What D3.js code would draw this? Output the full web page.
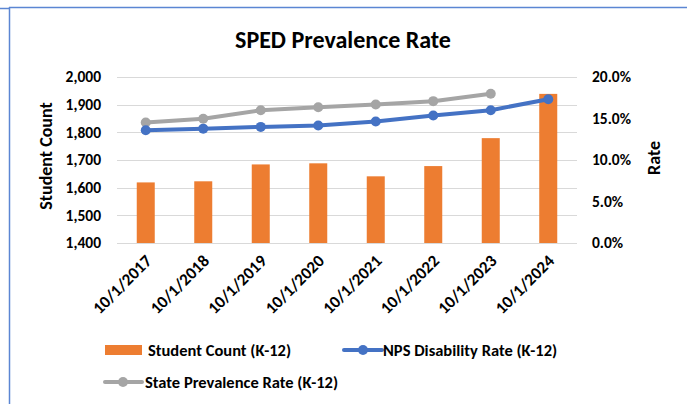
<!DOCTYPE html>
<html>
<head>
<meta charset="utf-8">
<script src="https://cdn.jsdelivr.net/npm/d3@7"></script>
<style>
  html, body { margin: 0; padding: 0; background: #fff; }
  svg { display: block; font-family: Carlito, "Liberation Sans Narrow", "Open Sans", sans-serif; }
</style>
</head>
<body>
<svg id="chart" width="687" height="404"></svg>
<script>
const categories = ["10/1/2017", "10/1/2018", "10/1/2019", "10/1/2020", "10/1/2021", "10/1/2022", "10/1/2023", "10/1/2024"];
const studentCount = [1619, 1623, 1684, 1688, 1641, 1678, 1779, 1939];
const npsRate = [0.1358, 0.1378, 0.1399, 0.1415, 0.1463, 0.1536, 0.1600, 0.1733];
const stateRate = [0.1451, 0.1496, 0.1600, 0.1636, 0.1669, 0.1709, 0.1798, null];
const countTicks = [1400, 1500, 1600, 1700, 1800, 1900, 2000];
const rateTicks = [0, 0.05, 0.10, 0.15, 0.20];

const ORANGE = "#ED7D31";
const BLUE = "#4472C4";
const GRAY = "#A5A5A5";
const FONT = "Carlito, 'Liberation Sans Narrow', 'Open Sans', sans-serif";

const svg = d3.select("#chart");
const margin = { left: 117, right: 110, top: 77, bottom: 161 };
const width = 687, height = 404;

const x = d3.scaleBand().domain(categories).range([margin.left, width - margin.right]);
const yCount = d3.scaleLinear().domain([1400, 2000]).range([height - margin.bottom, margin.top]);
const yRate = d3.scaleLinear().domain([0, 0.2]).range([height - margin.bottom, margin.top]);

// chart frame (partially visible like a cropped Excel chart)
svg.append("line").attr("x1", 9).attr("x2", width).attr("y1", 7.5).attr("y2", 7.5)
  .attr("stroke", "#5B86D3").attr("stroke-width", 1.5);
svg.append("line").attr("x1", 0).attr("x2", 9).attr("y1", 8.5).attr("y2", 8.5)
  .attr("stroke", "#5B86D3").attr("stroke-width", 1.5);
svg.append("line").attr("x1", 9.5).attr("x2", 9.5).attr("y1", 7).attr("y2", height)
  .attr("stroke", "#5B86D3").attr("stroke-width", 1.5);

svg.append("text").attr("x", 343).attr("y", 48).attr("text-anchor", "middle")
  .attr("font-size", 24).attr("font-weight", "bold").attr("fill", "#000")
  .text("SPED Prevalence Rate");

// gridlines
svg.append("g").selectAll("line").data(countTicks).join("line")
  .attr("x1", margin.left).attr("x2", width - margin.right)
  .attr("y1", (d) => Math.round(yCount(d)) + 0.5).attr("y2", (d) => Math.round(yCount(d)) + 0.5)
  .attr("stroke", "#D9D9D9").attr("stroke-width", 1);

// left axis
const leftAxis = svg.append("g").attr("transform", `translate(${margin.left},0)`)
  .call(d3.axisLeft(yCount).tickValues(countTicks).tickFormat(d3.format(",")).tickSize(0).tickPadding(16));
leftAxis.select(".domain").remove();
leftAxis.selectAll("text").attr("font-size", 15.5).attr("font-weight", "bold").attr("fill", "#000")
  .attr("font-family", FONT);

// right axis
const rightAxis = svg.append("g").attr("transform", `translate(${width - margin.right},0)`)
  .call(d3.axisRight(yRate).tickValues(rateTicks).tickFormat(d3.format(".1%")).tickSize(0).tickPadding(15));
rightAxis.select(".domain").remove();
rightAxis.selectAll("text").attr("font-size", 15.5).attr("font-weight", "bold").attr("fill", "#000")
  .attr("font-family", FONT);

// axis titles
svg.append("text").attr("transform", "translate(52,156) rotate(-90)").attr("text-anchor", "middle")
  .attr("font-size", 18).attr("font-weight", "bold").text("Student Count");
svg.append("text").attr("transform", "translate(660,158) rotate(-90)").attr("text-anchor", "middle")
  .attr("font-size", 18).attr("font-weight", "bold").text("Rate");

// bars
const barW = 18;
svg.append("g").selectAll("rect").data(studentCount).join("rect")
  .attr("x", (d, i) => x(categories[i]) + x.bandwidth() / 2 - barW / 2)
  .attr("y", (d) => yCount(d))
  .attr("width", barW)
  .attr("height", (d) => yCount(1400) - yCount(d))
  .attr("fill", ORANGE);

// x labels
svg.append("g").selectAll("text").data(categories).join("text")
  .attr("transform", (d) => `translate(${x(d) + x.bandwidth() / 2 + 7},${height - margin.bottom + 19}) rotate(-45)`)
  .attr("text-anchor", "end")
  .attr("font-size", 17).attr("font-weight", "bold").text((d) => d);

// lines
function drawSeries(values, color) {
  const pts = values.map((v, i) => ({ c: categories[i], v })).filter((p) => p.v !== null);
  const line = d3.line().x((p) => x(p.c) + x.bandwidth() / 2).y((p) => yRate(p.v));
  svg.append("path").datum(pts).attr("d", line).attr("fill", "none")
    .attr("stroke", color).attr("stroke-width", 4).attr("stroke-linejoin", "round").attr("stroke-linecap", "round");
  svg.append("g").selectAll("circle").data(pts).join("circle")
    .attr("cx", (p) => x(p.c) + x.bandwidth() / 2).attr("cy", (p) => yRate(p.v))
    .attr("r", 5).attr("fill", color);
}
drawSeries(stateRate, GRAY);
drawSeries(npsRate, BLUE);

// legend
const legend = svg.append("g").attr("font-size", 16.5).attr("font-weight", "bold");
legend.append("rect").attr("x", 105).attr("y", 345).attr("width", 37).attr("height", 10).attr("fill", ORANGE);
legend.append("text").attr("x", 148).attr("y", 356).text("Student Count (K-12)");

legend.append("line").attr("x1", 344).attr("x2", 382).attr("y1", 350).attr("y2", 350)
  .attr("stroke", BLUE).attr("stroke-width", 4).attr("stroke-linecap", "round");
legend.append("circle").attr("cx", 363).attr("cy", 350).attr("r", 5).attr("fill", BLUE);
legend.append("text").attr("x", 383).attr("y", 356).text("NPS Disability Rate (K-12)");

legend.append("line").attr("x1", 105).attr("x2", 142).attr("y1", 382).attr("y2", 382)
  .attr("stroke", GRAY).attr("stroke-width", 4).attr("stroke-linecap", "round");
legend.append("circle").attr("cx", 123).attr("cy", 382).attr("r", 5).attr("fill", GRAY);
legend.append("text").attr("x", 145).attr("y", 388).text("State Prevalence Rate (K-12)");
</script>
</body>
</html>
